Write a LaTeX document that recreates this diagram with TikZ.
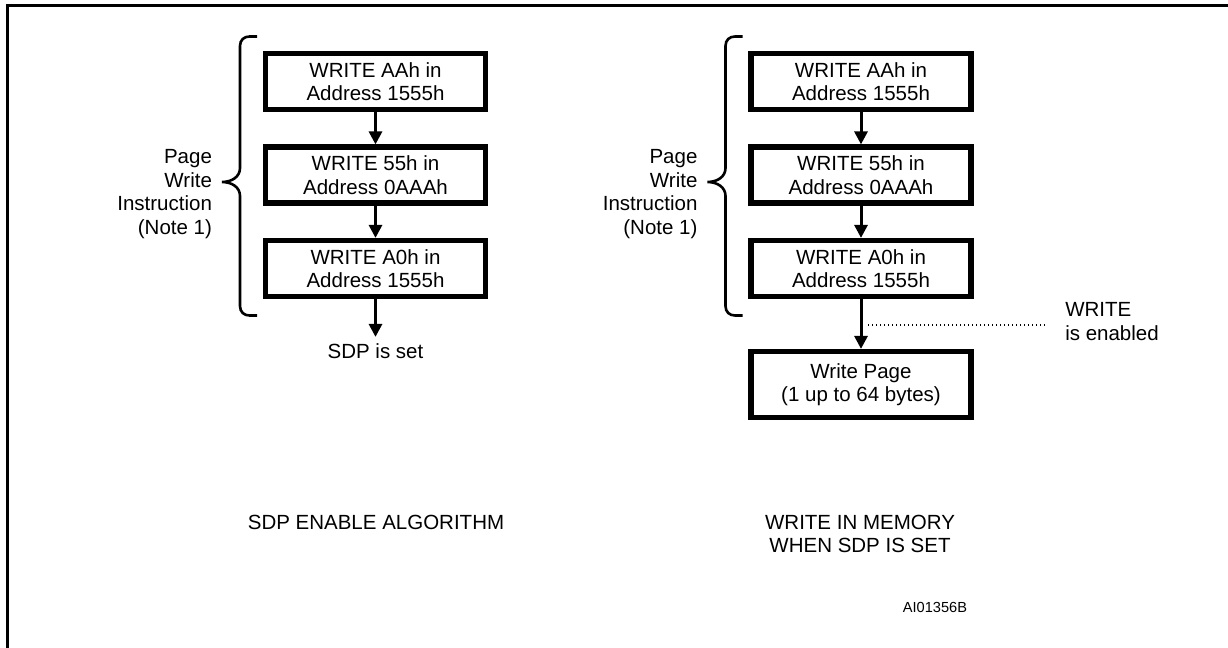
\documentclass[tikz,border=0pt]{standalone}
\usepackage{fontspec}
\setmainfont{Liberation Sans}
\usepackage{tikz}
\usetikzlibrary{arrows.meta}

\tikzset{
  stepbox/.style={draw, line width=2.6pt, minimum width=110pt, minimum height=28pt, align=center, inner sep=0pt},
  flow/.style={-{Triangle[length=6.5pt,width=6.5pt]}, line width=1.5pt},
  curly/.style={line width=1.3pt},
  dots/.style={line width=0.6pt, dash pattern=on 0.6pt off 1.4pt}
}

\begin{document}
\begin{tikzpicture}[x=0.5pt, y=-0.5pt, font=\fontsize{10.25}{11.7}\selectfont]
  \useasboundingbox (0,0) rectangle (1228,648);
  \draw[line width=1.5pt] (7.5,660) -- (7.5,5.5) -- (1240,5.5); % frame

  \foreach \c/\x in {a/375.5, b/861}{
    \node[stepbox] (\c1) at (\x,81.5) {WRITE AAh in\\Address 1555h};
    \node[stepbox] (\c2) at (\x,175) {WRITE 55h in\\Address 0AAAh};
    \node[stepbox] (\c3) at (\x,268.5) {WRITE A0h in\\Address 1555h};
    \draw[flow] (\c1) -- (\c2);
    \draw[flow] (\c2) -- (\c3);
    % brace round the three steps
    \draw[curly, shift={(\x,0)}] (-118.5,315.5) -- (-126,315.5)
      .. controls (-131.5,315.5) and (-135.5,312) .. (-135.5,306) -- (-135.5,196)
      .. controls (-135.5,187) and (-144,182) .. (-153.5,182)
      .. controls (-144,182) and (-135.5,177) .. (-135.5,168) -- (-135.5,46)
      .. controls (-135.5,40) and (-131.5,36.5) .. (-126,36.5) -- (-118.5,36.5);
    \node[anchor=east, align=right] (\c txt) at (\x-156.5,194) {Page\\Write\\Instruction\\(Note 1)};
  }

  % left: SDP enable
  \node (aset) at (375.5,351.5) {SDP is set};
  \draw[flow] (a3) -- (aset);
  \node (atitle) at (376,522.5) {SDP ENABLE ALGORITHM};

  % right: write in memory
  \node[stepbox, minimum height=33pt] (b4) at (861,384.5) {Write Page\\(1 up to 64 bytes)};
  \draw[flow] (b3) -- (b4);
  \coordinate (en) at (868,325);
  \node[anchor=west, align=left] (entxt) at (1058.2,321.5) {WRITE\\is enabled};
  \draw[dots, shorten >=6.5pt] (en) -- (en -| entxt.west);
  \node[align=center] (btitle) at (860,534) {WRITE IN MEMORY\\WHEN SDP IS SET};

  \node[font=\fontsize{7.3}{8}\selectfont] (code) at (935,607.5) {AI01356B};
\end{tikzpicture}
\end{document}
